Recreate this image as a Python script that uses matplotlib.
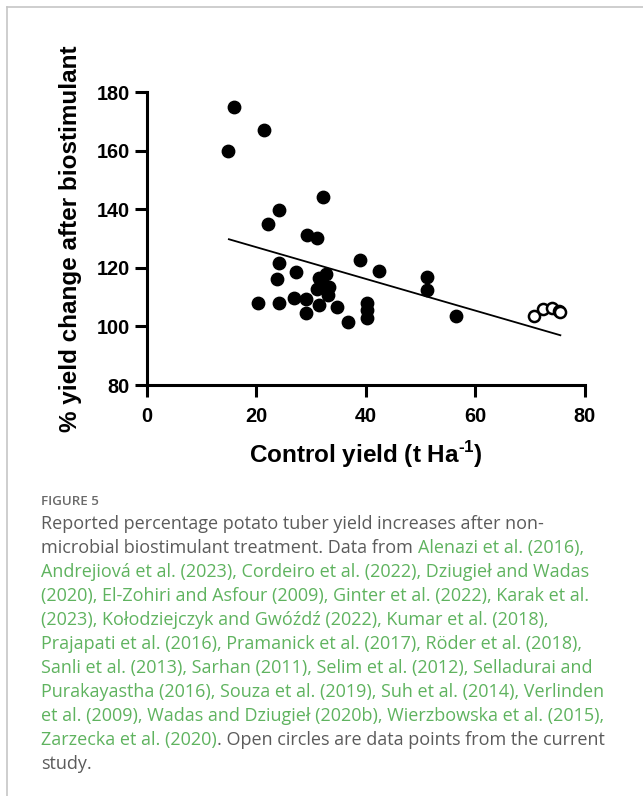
import matplotlib
matplotlib.use('Agg')
import matplotlib.pyplot as plt
from matplotlib.lines import Line2D

# データ
lit_x = [16.0, 14.9, 21.4, 32.1, 24.1, 22.2, 29.2, 31.1, 38.9, 24.1,
         42.4, 27.2, 23.8, 51.2, 51.2, 31.5, 32.8, 31.0, 33.3, 31.9,
         33.1, 31.5, 20.4, 24.1, 26.8, 29.1, 29.1, 34.8, 36.8, 40.3,
         40.3, 40.3, 56.4]
lit_y = [174.9, 159.8, 167.2, 144.1, 139.9, 135.1, 131.2, 130.3, 122.8, 121.8,
         118.8, 118.6, 116.2, 116.8, 112.5, 116.5, 118.0, 112.9, 113.4, 114.6,
         110.6, 107.4, 108.1, 108.1, 109.8, 109.3, 104.5, 106.5, 101.4, 108.0,
         105.7, 103.0, 103.5]
study_x = [70.7, 72.4, 73.9, 75.3, 75.5]
study_y = [103.6, 106.0, 106.4, 105.4, 104.9]
trend_x = [15.0, 75.5]
trend_y = [129.8, 97.0]

xticks = [0, 20, 40, 60, 80]
yticks = [80, 100, 120, 140, 160, 180]

gray = '#5b5b5b'
green = '#5fb35f'

caption_lines = [
    [("Reported percentage potato tuber yield increases after non-", gray)],
    [("microbial biostimulant treatment. Data from", gray), ("Alenazi et al. (2016),", green)],
    [("Andrejiová et al. (2023), Cordeiro et al. (2022), Dziugieł and Wadas", green)],
    [("(2020), El-Zohiri and Asfour (2009), Ginter et al. (2022), Karak et al.", green)],
    [("(2023), Kołodziejczyk and Gwóźdź (2022), Kumar et al. (2018),", green)],
    [("Prajapati et al. (2016), Pramanick et al. (2017), Röder et al. (2018),", green)],
    [("Sanli et al. (2013), Sarhan (2011), Selim et al. (2012), Selladurai and", green)],
    [("Purakayastha (2016), Souza et al. (2019), Suh et al. (2014), Verlinden", green)],
    [("et al. (2009), Wadas and Dziugieł (2020b), Wierzbowska et al. (2015),", green)],
    [("Zarzecka et al. (2020)", green), (". Open circles are data points from the current", gray)],
    [("study.", gray)],
]

plt.rcParams['font.family'] = ['Liberation Sans', 'DejaVu Sans']
plt.rcParams['mathtext.fontset'] = 'custom'
plt.rcParams['mathtext.rm'] = 'Liberation Sans:bold'
plt.rcParams['mathtext.bf'] = 'Liberation Sans:bold'

W, H = 643, 796
fig = plt.figure(figsize=(W / 100, H / 100), dpi=100)
ax = fig.add_axes([146.7 / W, 1 - 385 / H, 438.3 / W, 292.7 / H])

ax.scatter(lit_x, lit_y, s=80, color='black', zorder=3, clip_on=False)
ax.scatter(study_x, study_y, s=64, facecolor='white', edgecolor='black',
           linewidth=1.8, zorder=4, clip_on=False)
ax.plot(trend_x, trend_y, color='black', lw=1.3, zorder=2)

ax.set_xlim(0, 80)
ax.set_ylim(80, 180)
ax.set_xticks(xticks)
ax.set_yticks(yticks)
for s in ['top', 'right']:
    ax.spines[s].set_visible(False)
for s in ['left', 'bottom']:
    ax.spines[s].set_linewidth(2.2)
ax.tick_params(direction='out', length=8.6, width=2.2, labelsize=14.3)
ax.tick_params(axis='x', pad=7)
ax.tick_params(axis='y', pad=3.5)
for lab in ax.get_xticklabels() + ax.get_yticklabels():
    lab.set_fontweight('bold')

ax.set_xlabel(r'Control yield (t Ha$^{\text{-}1}$)', fontsize=17.5, fontweight='bold')
ax.set_ylabel('% yield change after biostimulant', fontsize=17.5, fontweight='bold')
ax.xaxis.label.set_va('center')
ax.yaxis.label.set_va('center')
ax.xaxis.set_label_coords(0.5, (385 - 455) / 292.7)
ax.yaxis.set_label_coords((71 - 146.7) / 438.3, 0.5)

# 枠線
fig.add_artist(Line2D([7 / W, 1], [1 - 7 / H, 1 - 7 / H], color='#c6c6c6', lw=1.2))
fig.add_artist(Line2D([7 / W, 7 / W], [0, 1 - 7 / H], color='#c6c6c6', lw=1.2))

# キャプション
cap_font = ['Open Sans', 'DejaVu Sans']
renderer = fig.canvas.get_renderer()

# 9行目の幅 (約565px) に合わせて文字サイズを決める
probe = fig.text(0, 0, caption_lines[8][0][0], fontsize=10, family=cap_font)
cap_size = 10 * 565 / probe.get_window_extent(renderer).width
probe.set_fontsize(cap_size)
probe.set_text('a a')
w1 = probe.get_window_extent(renderer).width
probe.set_text('aa')
w2 = probe.get_window_extent(renderer).width
space_w = w1 - w2
probe.remove()

fig.text(41 / W, 1 - 505 / H, 'FIGURE 5', fontsize=9.6, color='#6a6a6a',
         family=cap_font, fontweight='semibold', va='baseline')

x0 = 41
base = 529
for i, segs in enumerate(caption_lines):
    y = 1 - (base + 24 * i) / H
    x = x0
    for j, (txt, col) in enumerate(segs):
        t = fig.text(x / W, y, txt, fontsize=cap_size, color=col,
                     family=cap_font, va='baseline')
        x += t.get_window_extent(renderer).width
        if j + 1 < len(segs) and not segs[j + 1][0].startswith('.'):
            x += space_w

fig.savefig('out.png', dpi=100)
plt.close(fig)
